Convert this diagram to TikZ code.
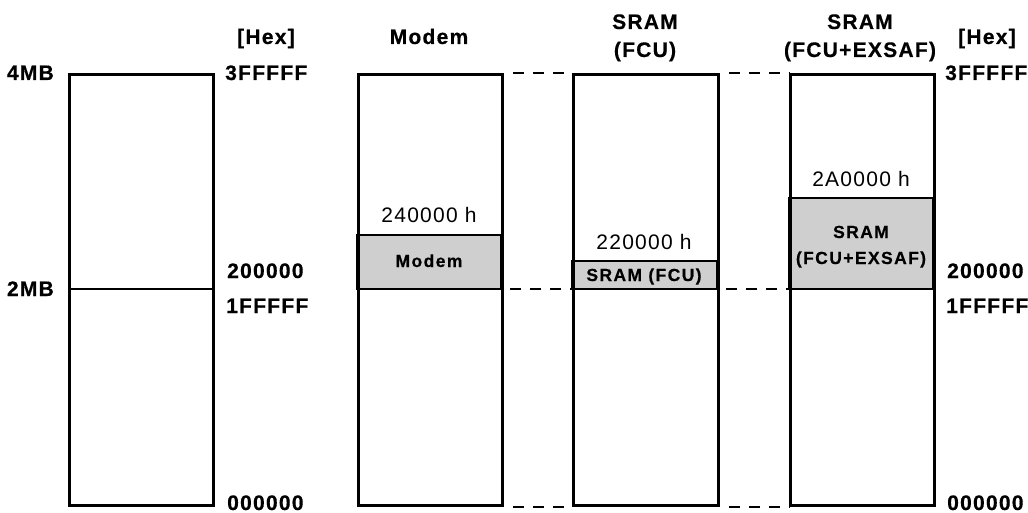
\documentclass[tikz,border=0pt]{standalone}
\usepackage{fontspec}
\setmainfont{Liberation Sans}
\newfontfamily\lblfont[LetterSpace=6,BoldFeatures={FakeBold=0.5}]{Liberation Sans}
\newfontfamily\smlfont[LetterSpace=8,BoldFeatures={FakeBold=0.5}]{Liberation Sans}
\definecolor{memgray}{HTML}{CFCFCF}
\begin{document}
\begin{tikzpicture}[x=1pt,y=-1pt,
  mem/.style={draw,line width=2.8pt,minimum width=144pt,minimum height=431pt,inner sep=0pt,anchor=north west},
  part/.style={draw,line width=2.8pt,fill=memgray},
  sep/.style={line width=2.8pt},
  link/.style={line width=2.6pt,dash pattern=on 11pt off 9pt,dash phase=11pt},
  big/.style={font=\lblfont\bfseries\fontsize{21}{24}\selectfont,inner sep=0pt},
  addr/.style={font=\lblfont\fontsize{21}{24}\selectfont,inner sep=0pt,anchor=base},
  small/.style={font=\smlfont\bfseries\fontsize{17.5}{20}\selectfont,inner sep=0pt,anchor=base}]
\useasboundingbox (0,0) rectangle (1028,513);
% gray regions
\draw[part] (357,235) rectangle (501,289);
\draw[part] (572,261) rectangle (717,289);
\draw[part] (789,198) rectangle (933,289);
% boxes
\node[mem] (b1) at (68,73) {};
\node[mem] (b2) at (357,73) {};
\node[mem,minimum width=145pt] (b3) at (572,73) {};
\node[mem] (b4) at (789,73) {};
\coordinate (m1w) at (68,289);
\coordinate (m1e) at (212,289);
\coordinate (m2e) at (501,289);
\coordinate (m3w) at (572,289);
\coordinate (m3e) at (717,289);
\coordinate (m4w) at (789,289);
\draw[sep] (m1w) -- (m1e);
% dashed connectors
\draw[link] (b2.north east) -- (b3.north west);
\draw[link] (b3.north east) -- (b4.north west);
\draw[link] (m2e) -- (m3w);
\draw[link] (m3e) -- (m4w);
\draw[link] (b2.south east) -- (b3.south west);
\draw[link] (b3.south east) -- (b4.south west);
% left labels
\node[big,anchor=base east] (mb4) at (54,80) {4MB};
\node[big,anchor=base east] (mb2) at (54,296) {2MB};
\node[big,anchor=base west] (hexl) at (237,44) {[Hex]};
\node[big,anchor=base west] (l3f) at (225,80) {3FFFFF};
\node[big,anchor=base west] (l20) at (227,278) {200000};
\node[big,anchor=base west] (l1f) at (226,313) {1FFFFF};
\node[big,anchor=base west] (l00) at (227,510) {000000};
% right labels
\node[big,anchor=base west] (hexr) at (958,44) {[Hex]};
\node[big,anchor=base west] (r3f) at (945,80) {3FFFFF};
\node[big,anchor=base west] (r20) at (947,278) {200000};
\node[big,anchor=base west] (r1f) at (946,313) {1FFFFF};
\node[big,anchor=base west] (r00) at (947,510) {000000};
% headers
\node[big,anchor=base] (h2) at (429,44) {Modem};
\node[big,anchor=base] (h3a) at (645,29) {SRAM};
\node[big,anchor=base] (h3b) at (645,57) {(FCU)};
\node[big,anchor=base] (h4a) at (860,29) {SRAM};
\node[big,anchor=base] (h4b) at (860,57) {(FCU+EXSAF)};
% addresses
\node[addr] (a2) at (429,223) {240000 h};
\node[addr] (a3) at (644,250) {220000 h};
\node[addr] (a4) at (861,187) {2A0000 h};
% region labels
\node[small] (p2) at (429,267) {Modem};
\node[small] (p3) at (644,281) {SRAM (FCU)};
\node[small] (p4a) at (861,238) {SRAM};
\node[small] (p4b) at (861,264) {(FCU+EXSAF)};
\end{tikzpicture}
\end{document}
